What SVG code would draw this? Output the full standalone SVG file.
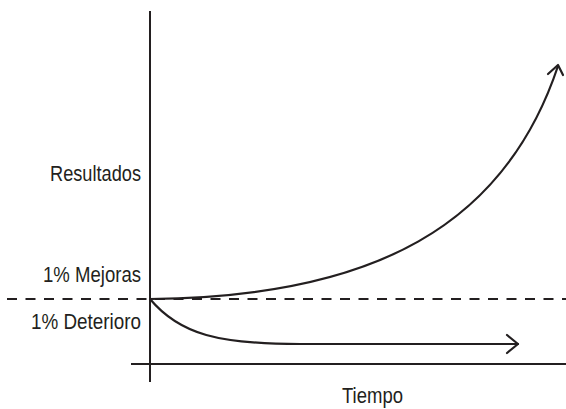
<svg xmlns="http://www.w3.org/2000/svg" width="566" height="409" viewBox="0 0 566 409">
<style>
.ax{stroke:#231f20;stroke-width:2;fill:none}
.cv{stroke:#231f20;stroke-width:2.2;fill:none;stroke-linecap:round;stroke-linejoin:round}
.lb{font-family:"Liberation Sans",Arial,sans-serif;font-size:21.5px;fill:#231f20}
</style>
<rect width="566" height="409" fill="#fff"/>
<g id="connectors">
<line class="ax" x1="150" y1="11" x2="150" y2="382"/>
<line class="ax" x1="131" y1="364" x2="566" y2="364"/>
<line class="ax" x1="7" y1="299" x2="566" y2="299" stroke-dasharray="10 8.5"/>
<path class="cv" d="M150,299 C375,297 505,225 558,66"/>
<path class="cv" d="M548,74 L558,65 L563,75"/>
<path class="cv" d="M150,299 C180,335 220,344 300,344 L518,344"/>
<path class="cv" d="M507,335 L518,344 L507,353"/>
</g>
<g id="label-resultados"><text class="lb" x="141" y="181" text-anchor="end" textLength="91" lengthAdjust="spacingAndGlyphs">Resultados</text></g>
<g id="label-mejoras"><text class="lb" x="141" y="282" text-anchor="end" textLength="98" lengthAdjust="spacingAndGlyphs">1% Mejoras</text></g>
<g id="label-deterioro"><text class="lb" x="141" y="329" text-anchor="end" textLength="110" lengthAdjust="spacingAndGlyphs">1% Deterioro</text></g>
<g id="label-tiempo"><text class="lb" x="342" y="403" textLength="61" lengthAdjust="spacingAndGlyphs">Tiempo</text></g>
</svg>
